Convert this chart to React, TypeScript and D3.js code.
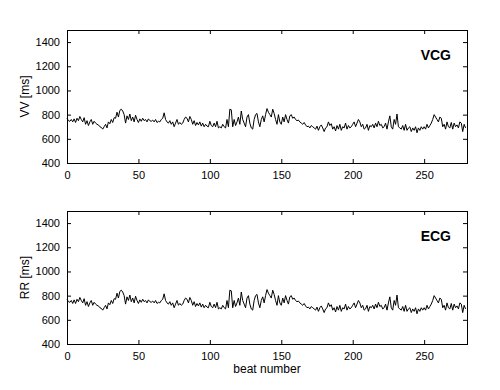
import React, { useEffect, useRef } from "react";
import { select, scaleLinear, axisLeft, axisBottom, axisTop, axisRight, line } from "d3";

// VV intervals (VCG), read beat by beat off the picture
const vvValues = [
  770, 750, 745, 760, 740, 765, 735, 770, 750, 785, 760, 740, 775, 720, 750, 710, 740, 760, 720, 745,
  730, 720, 715, 700, 695, 680, 700, 720, 690, 740, 725, 760, 735, 775, 770, 820, 780, 835, 845, 830,
  800, 730, 790, 760, 805, 750, 780, 740, 795, 760, 735, 765, 745, 770, 750, 760, 740, 765, 750, 745,
  755, 740, 760, 735, 745, 740, 760, 770, 815, 760, 740, 730, 750, 720, 740, 700, 730, 760, 720, 735,
  720, 730, 760, 780, 770, 740, 785, 760, 720, 750, 710, 735, 715, 740, 705, 730, 700, 720, 705, 700,
  745, 710, 700, 730, 700, 745, 690, 700, 690, 720, 700, 690, 760, 700, 845, 840, 700, 760, 710, 740,
  780, 720, 830, 760, 730, 700, 780, 800, 730, 690, 680, 760, 800, 810, 740, 700, 760, 790, 740, 800,
  850, 820, 800, 780, 845, 810, 760, 720, 800, 740, 720, 780, 740, 800, 760, 730, 790, 800, 770, 780,
  760, 750, 755, 740, 730, 720, 735, 715, 700, 705, 690, 710, 700, 690, 680, 705, 670, 700, 715, 690,
  660, 690, 700, 740, 710, 725, 680, 700, 665, 710, 680, 720, 670, 700, 690, 730, 680, 710, 690, 700,
  720, 740, 700, 730, 760, 740, 700, 720, 680, 690, 720, 670, 710, 700, 720, 690, 730, 700, 745, 710,
  720, 690, 700, 730, 680, 740, 790, 700, 680, 760, 720, 805, 700, 690, 680, 710, 670, 720, 670, 690,
  700, 660, 690, 670, 700, 650, 690, 670, 700, 680, 700, 680, 720, 690, 710, 730, 760, 800, 780, 760,
  740, 780, 770, 700, 720, 680, 740, 700, 690, 735, 680, 730, 700, 715, 690, 740, 730, 660, 720, 690,
];

// RR intervals (ECG)
const rrValues = [
  770, 750, 745, 760, 735, 765, 735, 770, 750, 785, 760, 740, 775, 720, 750, 710, 740, 760, 720, 745,
  730, 720, 715, 700, 695, 680, 700, 720, 690, 740, 725, 760, 735, 775, 770, 820, 780, 835, 845, 830,
  800, 730, 790, 760, 805, 750, 780, 740, 795, 760, 735, 765, 745, 770, 750, 760, 740, 765, 750, 745,
  755, 740, 760, 735, 745, 740, 760, 770, 815, 760, 740, 730, 750, 720, 740, 700, 730, 760, 720, 735,
  720, 730, 760, 780, 770, 740, 785, 760, 720, 750, 710, 735, 715, 740, 705, 730, 700, 720, 705, 700,
  745, 710, 700, 730, 700, 745, 690, 700, 690, 720, 700, 690, 760, 700, 845, 840, 700, 760, 710, 740,
  780, 720, 830, 760, 730, 700, 780, 800, 730, 690, 680, 760, 800, 810, 740, 700, 760, 790, 740, 800,
  850, 820, 800, 780, 845, 810, 760, 720, 800, 740, 720, 780, 740, 800, 760, 730, 790, 800, 770, 780,
  760, 750, 755, 740, 730, 720, 735, 715, 700, 705, 690, 710, 700, 690, 680, 705, 670, 700, 715, 690,
  660, 690, 700, 740, 710, 725, 680, 700, 665, 710, 680, 720, 670, 700, 690, 730, 680, 710, 690, 700,
  720, 740, 700, 730, 760, 740, 700, 720, 680, 690, 720, 670, 710, 700, 720, 690, 730, 700, 745, 710,
  720, 690, 700, 730, 680, 740, 790, 700, 680, 760, 720, 805, 700, 690, 680, 710, 670, 720, 670, 690,
  700, 660, 690, 670, 700, 650, 690, 670, 700, 680, 700, 680, 720, 690, 710, 730, 760, 800, 780, 760,
  740, 780, 770, 700, 720, 680, 740, 700, 690, 735, 680, 730, 700, 715, 690, 740, 730, 660, 720, 690,
];

const xTicks = [0, 50, 100, 150, 200, 250];
const yTicks = [400, 600, 800, 1000, 1200, 1400];

const canvasWidth = 500;
const canvasHeight = 390;
const plotLeft = 67;
const plotRight = 467;
const font = "Arial, 'Liberation Sans', sans-serif";

const panels = [
  { values: vvValues, ylabel: "VV [ms]", tag: "VCG", top: 30, bottom: 163 },
  { values: rrValues, ylabel: "RR [ms]", tag: "ECG", top: 211, bottom: 344 },
];

function App() {
  const svgRef = useRef(null);

  function drawPanel(svg, p, isLast) {
    const xScale = scaleLinear().domain([0, 280]).range([plotLeft, plotRight]);
    const yScale = scaleLinear().domain([400, 1500]).range([p.bottom, p.top]);

    const g = svg.append("g");

    const styleAxis = (sel) => {
      sel.select(".domain").remove();
      sel.selectAll("line").attr("stroke", "#000");
      sel.selectAll("text")
        .attr("fill", "#000")
        .style("font-family", font)
        .style("font-size", "11px");
    };

    g.append("g")
      .attr("transform", `translate(0, ${p.bottom})`)
      .call(axisBottom(xScale).tickValues(xTicks).tickSize(-4).tickPadding(8).tickFormat(String))
      .call(styleAxis);
    g.append("g")
      .attr("transform", `translate(0, ${p.top})`)
      .call(axisTop(xScale).tickValues(xTicks).tickSize(-4).tickFormat(() => ""))
      .call(styleAxis);
    g.append("g")
      .attr("transform", `translate(${plotLeft}, 0)`)
      .call(axisLeft(yScale).tickValues(yTicks).tickSize(-4).tickPadding(7).tickFormat(String))
      .call(styleAxis);
    g.append("g")
      .attr("transform", `translate(${plotRight}, 0)`)
      .call(axisRight(yScale).tickValues(yTicks).tickSize(-4).tickFormat(() => ""))
      .call(styleAxis);

    // box
    g.append("rect")
      .attr("x", plotLeft + 0.5)
      .attr("y", p.top + 0.5)
      .attr("width", plotRight - plotLeft)
      .attr("height", p.bottom - p.top)
      .attr("fill", "none")
      .attr("stroke", "#000");

    g.append("path")
      .datum(p.values)
      .attr("fill", "none")
      .attr("stroke", "#000")
      .attr("stroke-width", 1)
      .attr(
        "d",
        line()
          .x((d, i) => xScale(i))
          .y((d) => yScale(d))
      );

    g.append("text")
      .attr("x", 451)
      .attr("y", p.top + 30)
      .attr("text-anchor", "end")
      .style("font-family", font)
      .style("font-size", "14px")
      .style("font-weight", "bold")
      .text(p.tag);

    g.append("text")
      .attr("transform", `translate(29, ${(p.top + p.bottom) / 2}) rotate(-90)`)
      .attr("text-anchor", "middle")
      .style("font-family", font)
      .style("font-size", "12px")
      .text(p.ylabel);

    if (isLast) {
      g.append("text")
        .attr("x", (plotLeft + plotRight) / 2)
        .attr("y", p.bottom + 29)
        .attr("text-anchor", "middle")
        .style("font-family", font)
        .style("font-size", "12px")
        .text("beat number");
    }
  }

  useEffect(() => {
    const svg = select(svgRef.current);
    svg.selectAll("*").remove();
    svg.append("rect").attr("width", canvasWidth).attr("height", canvasHeight).attr("fill", "#fff");
    panels.forEach((p, i) => drawPanel(svg, p, i === panels.length - 1));
    return () => {
      svg.selectAll("*").remove();
    };
  }, []);

  return (
    <svg
      ref={svgRef}
      width={canvasWidth}
      height={canvasHeight}
      style={{ position: "absolute", left: 0, top: 0 }}
    />
  );
}

export default App;
